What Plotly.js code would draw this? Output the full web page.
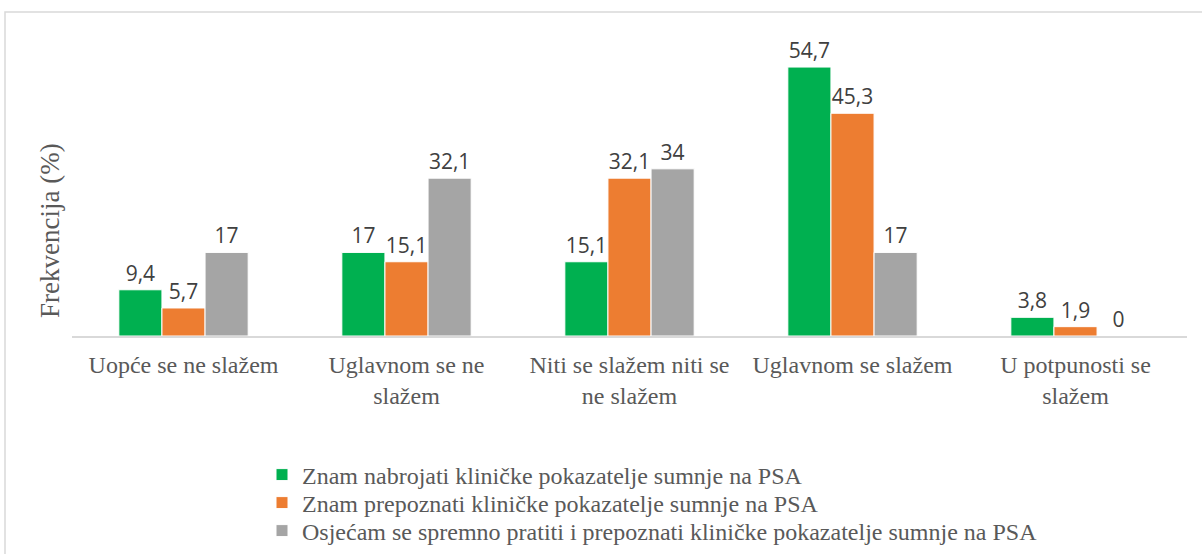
<!DOCTYPE html>
<html>
<head>
<meta charset="utf-8">
<script src="https://cdn.plot.ly/plotly-3.0.1.min.js"></script>
<style>
  html, body { margin: 0; padding: 0; background: #fff; }
  #chart { width: 1202px; height: 554px; }
</style>
</head>
<body>
<div id="chart"></div>
<script>
const categories = [
  "Uopće se ne slažem",
  "Uglavnom se ne<br>slažem",
  "Niti se slažem niti se<br>ne slažem",
  "Uglavnom se slažem",
  "U potpunosti se<br>slažem"
];
const seriesNames = [
  "Znam nabrojati kliničke pokazatelje sumnje na PSA",
  "Znam prepoznati kliničke pokazatelje sumnje na PSA",
  "Osjećam se spremno pratiti i prepoznati kliničke pokazatelje sumnje na PSA"
];
const znamNabrojati = [9.4, 17, 15.1, 54.7, 3.8];
const znamPrepoznati = [5.7, 15.1, 32.1, 45.3, 1.9];
const osjecamSpremno = [17, 32.1, 34, 17, 0];
const seriesValues = [znamNabrojati, znamPrepoznati, osjecamSpremno];
const colors = ["#00B050", "#ED7D31", "#A5A5A5"];

const fmt = v => String(v).replace(".", ",");
const SERIF = "'Liberation Serif', 'DejaVu Serif', serif";
const SANS = "'Open Sans', 'Liberation Sans', sans-serif";
const legendIds = ["legend", "legend2", "legend3"];

const traces = seriesValues.map((vals, i) => ({
  type: "bar",
  name: seriesNames[i],
  legend: legendIds[i],
  x: categories,
  y: vals,
  text: vals.map(fmt),
  textposition: "outside",
  cliponaxis: false,
  textfont: { family: SANS, size: 21, color: "#404040" },
  marker: { color: colors[i], line: { color: "#ffffff", width: 1 } },
  hoverinfo: "x+y"
}));

// layout geometry (pixels)
const L = 72, R = 15, T = 41, B = 218;
const W = 1202 - L - R, H = 554 - T - B;
const px = x => (x - L) / W;
const py = y => (554 - B - y) / H;

const legendRowY = [475, 503, 531];
const makeLegend = (i) => ({
  orientation: "v",
  xref: "container",
  yref: "container",
  x: 262 / 1202,
  xanchor: "left",
  y: 1 - legendRowY[i] / 554,
  yanchor: "middle",
  font: { family: SERIF, size: 24, color: "#595959" },
  itemwidth: 30,
  bgcolor: "rgba(0,0,0,0)"
});

const layout = {
  width: 1202,
  height: 554,
  margin: { l: L, r: R, t: T, b: B, pad: 0, autoexpand: false },
  paper_bgcolor: "#ffffff",
  plot_bgcolor: "#ffffff",
  barmode: "group",
  bargap: 0.42,
  bargroupgap: 0,
  showlegend: true,
  legend: makeLegend(0),
  legend2: makeLegend(1),
  legend3: makeLegend(2),
  xaxis: {
    type: "category",
    showline: true,
    linecolor: "#D9D9D9",
    linewidth: 1.5,
    ticks: "",
    showgrid: false,
    ticklabelstandoff: 6,
    tickfont: { family: SERIF, size: 24, color: "#595959" },
    automargin: false
  },
  yaxis: {
    range: [0, 60],
    showticklabels: false,
    showgrid: false,
    zeroline: false,
    showline: false,
    ticks: ""
  },
  annotations: [{
    text: "Frekvencija (%)",
    xref: "paper", yref: "paper",
    x: px(50), y: py(231),
    xanchor: "center", yanchor: "middle",
    textangle: -90,
    showarrow: false,
    font: { family: SERIF, size: 27, color: "#595959" }
  }],
  shapes: [{
    type: "rect",
    xref: "paper", yref: "paper",
    x0: px(5), x1: px(1215),
    y0: py(570), y1: py(12),
    line: { color: "#D9D9D9", width: 1.5 },
    fillcolor: "rgba(0,0,0,0)",
    layer: "below"
  }]
};

Plotly.newPlot("chart", traces, layout, { displayModeBar: false, responsive: false });
</script>
</body>
</html>
